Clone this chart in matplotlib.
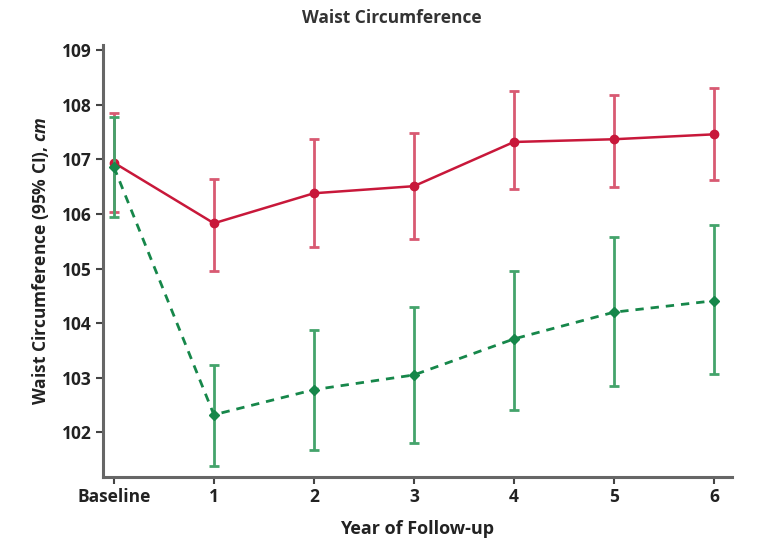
import matplotlib
matplotlib.use("Agg")
import matplotlib.pyplot as plt

categories = ["Baseline", "1", "2", "3", "4", "5", "6"]
red_mean = [106.94, 105.83, 106.38, 106.51, 107.32, 107.37, 107.46]
red_upper = [107.86, 106.65, 107.38, 107.49, 108.25, 108.19, 108.31]
red_lower = [106.03, 104.95, 105.39, 105.55, 106.45, 106.50, 106.62]
green_mean = [106.86, 102.32, 102.78, 103.05, 103.71, 104.20, 104.41]
green_upper = [107.78, 103.24, 103.88, 104.30, 104.96, 105.57, 105.79]
green_lower = [105.95, 101.38, 101.67, 101.81, 102.41, 102.85, 103.07]
yticks = [102, 103, 104, 105, 106, 107, 108, 109]

plt.rcParams['font.family'] = ['Open Sans', 'DejaVu Sans']
plt.rcParams['mathtext.fontset'] = 'custom'
plt.rcParams['mathtext.it'] = 'Open Sans:italic:bold'
plt.rcParams['mathtext.rm'] = 'Open Sans:bold'

fig = plt.figure(figsize=(7.68, 5.47), dpi=100)
ax = fig.add_axes([0.134, 0.128, 0.819, 0.79])

x = list(range(len(categories)))
RED = '#C8183A'
GREEN = '#16874A'

def yerr(m, lo, up):
    return [[a - b for a, b in zip(m, lo)], [c - a for a, c in zip(m, up)]]

ax.errorbar(x, red_mean, yerr=yerr(red_mean, red_lower, red_upper), color=RED,
            ecolor='#D85A72', elinewidth=2, capsize=3.5, capthick=2,
            marker='o', markersize=6, linewidth=1.8, linestyle='-', zorder=3)
ax.errorbar(x, green_mean, yerr=yerr(green_mean, green_lower, green_upper), color=GREEN,
            ecolor='#44A36B', elinewidth=2, capsize=3.5, capthick=2,
            marker='D', markersize=5.5, linewidth=2, linestyle=(0, (3, 2.5)), zorder=4)

ax.set_xlim(-0.11, 6.18)
ax.set_ylim(101.18, 109.1)
ax.set_xticks(x)
ax.set_xticklabels(categories)
ax.set_yticks(yticks)
ax.set_yticklabels([str(v) for v in yticks])

for s in ['top', 'right']:
    ax.spines[s].set_visible(False)
for s in ['left', 'bottom']:
    ax.spines[s].set_color('#666666')
    ax.spines[s].set_linewidth(2.2)

ax.tick_params(axis='both', direction='out', length=5, width=1.5, color='#444444',
               labelsize=12.5, pad=3)
for lab in ax.get_xticklabels() + ax.get_yticklabels():
    lab.set_fontweight('bold')
    lab.set_color('#222222')

ax.set_xlabel('Year of Follow-up', fontsize=13, fontweight='bold', color='#222222', labelpad=10)
ax.set_ylabel(r'Waist Circumference (95% CI), $\it{cm}$', fontsize=12.5, fontweight='bold',
              color='#222222', labelpad=8)
fig.text(0.51, 0.967, 'Waist Circumference', ha='center', va='center', fontsize=12.5,
         fontweight='bold', color='#333333')

fig.savefig('out.png', dpi=100)
